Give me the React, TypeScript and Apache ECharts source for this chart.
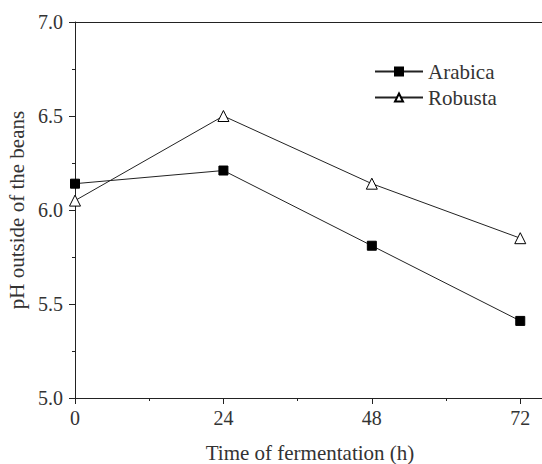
import React, { useEffect, useRef } from "react";
import * as echarts from "echarts";

const hours = [0, 24, 48, 72];
const arabica = [6.14, 6.21, 5.81, 5.41];
const robusta = [6.05, 6.5, 6.14, 5.85];
const xMajorTicks = [0, 24, 48, 72];
const xMinorTicks = [12, 36, 60];

const FONT = "'Liberation Serif', 'Times New Roman', serif";
const INK = "#222";

export default function App() {
  const ref = useRef<HTMLDivElement>(null);
  useEffect(() => {
    if (!ref.current) return;
    const chart = echarts.init(ref.current, undefined, { renderer: "svg" });
    chart.setOption({
      animation: false,
      backgroundColor: "#fff",
      textStyle: { fontFamily: FONT },
      grid: { left: 75, right: -3, top: 22, bottom: 66, outerBoundsMode: "none", containLabel: false },
      legend: {
        orient: "vertical",
        left: 369,
        top: 56,
        itemWidth: 48,
        itemHeight: 10,
        itemGap: 5,
        textStyle: { fontFamily: FONT, fontSize: 21, color: "#333" },
        data: ["Arabica", "Robusta"],
      },
      xAxis: [
        {
          type: "value",
          min: 0,
          max: 76,
          interval: 24,
          position: "bottom",
          name: "Time of fermentation (h)",
          nameLocation: "middle",
          nameGap: 44,
          nameTextStyle: { fontFamily: FONT, fontSize: 21, color: "#333" },
          axisLine: { show: true, lineStyle: { color: INK, width: 1 } },
          axisTick: {
            show: true,
            inside: false,
            length: 6,
            customValues: xMajorTicks,
            lineStyle: { color: INK },
          },
          axisLabel: {
            customValues: xMajorTicks,
            margin: 10,
            fontFamily: FONT,
            fontSize: 20,
            color: "#333",
          },
          splitLine: { show: false },
        },
        {
          type: "value",
          min: 0,
          max: 76,
          interval: 24,
          position: "bottom",
          axisLine: { show: false },
          axisTick: {
            show: true,
            inside: false,
            length: 3,
            customValues: xMinorTicks,
            lineStyle: { color: INK },
          },
          axisLabel: { show: false },
          splitLine: { show: false },
        },
        {
          type: "value",
          min: 0,
          max: 76,
          position: "top",
          axisLine: { show: true, lineStyle: { color: INK, width: 1 } },
          axisTick: { show: false },
          axisLabel: { show: false },
          splitLine: { show: false },
        },
      ],
      yAxis: {
        type: "value",
        min: 5.0,
        max: 7.0,
        interval: 0.5,
        name: "pH outside of the beans",
        nameLocation: "middle",
        nameGap: 46,
        nameTextStyle: { fontFamily: FONT, fontSize: 21, color: "#333" },
        axisLine: { show: true, lineStyle: { color: INK, width: 1 } },
        axisTick: { show: true, inside: false, length: 6, lineStyle: { color: INK } },
        minorTick: { show: true, splitNumber: 2, length: 3, lineStyle: { color: INK } },
        axisLabel: {
          margin: 12,
          fontFamily: FONT,
          fontSize: 20,
          color: "#333",
          formatter: (v: number) => v.toFixed(1),
        },
        splitLine: { show: false },
      },
      series: [
        {
          name: "Arabica",
          type: "line",
          xAxisIndex: 0,
          data: hours.map((h, i) => [h, arabica[i]]),
          symbol: "rect",
          symbolSize: 9,
          lineStyle: { color: INK, width: 1 },
          itemStyle: { color: "#000", borderColor: "#000", borderWidth: 1 },
        },
        {
          name: "Robusta",
          type: "line",
          xAxisIndex: 0,
          data: hours.map((h, i) => [h, robusta[i]]),
          symbol: "triangle",
          symbolSize: 11,
          lineStyle: { color: INK, width: 1 },
          itemStyle: { color: "#fff", borderColor: "#000", borderWidth: 1 },
        },
      ],
    });
    return () => chart.dispose();
  }, []);
  return <div ref={ref} style={{ width: 542, height: 464, position: "absolute", left: 0, top: 0 }} />;
}
